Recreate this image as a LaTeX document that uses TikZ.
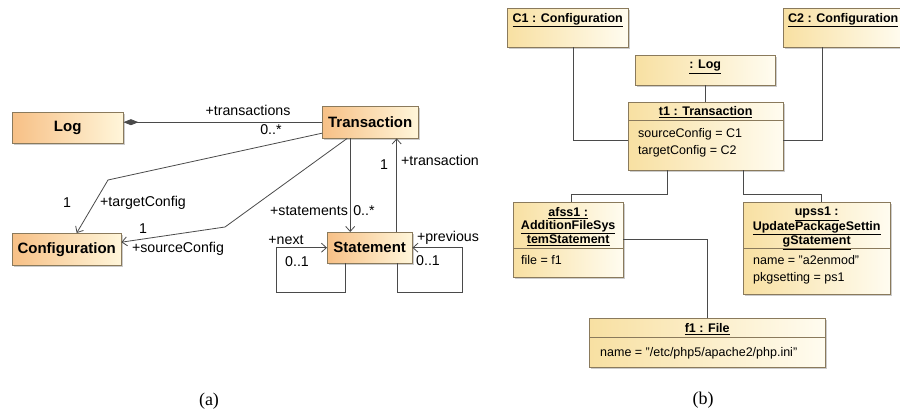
\documentclass[tikz,border=0pt]{standalone}
\usepackage{fontspec}
\setmainfont{Liberation Sans}
\newfontfamily\capfont{Liberation Serif}
\usetikzlibrary{arrows.meta, positioning, shadows}

\definecolor{clsorange}{HTML}{F7C086}
\definecolor{clslight}{HTML}{FFF6DA}
\definecolor{objyellow}{HTML}{F8E0A2}
\definecolor{objlight}{HTML}{FFFCF0}
\definecolor{boxline}{HTML}{8A7A5C}
\definecolor{wire}{HTML}{4A4A4A}

\tikzset{
	boxshadow/.style={drop shadow={shadow xshift=2pt, shadow yshift=-2pt, opacity=0.4}},
	umlclass/.style={draw=boxline, left color=clsorange, right color=clslight, anchor=north west,
		inner sep=0pt, font=\fontsize{15}{17}\selectfont\bfseries, boxshadow},
	umlobject/.style={draw=boxline, left color=objyellow, right color=objlight, anchor=north west,
		inner sep=0pt, boxshadow},
	objhead/.style={anchor=north, inner sep=0pt, align=center, font=\fontsize{12.5}{13}\selectfont\bfseries},
	objattr/.style={anchor=north west, inner sep=0pt, align=left, font=\fontsize{12.5}{17}\selectfont},
	role/.style={inner sep=0pt, font=\fontsize{14.2}{16}\selectfont},
	caption/.style={font=\capfont\fontsize{18}{20}\selectfont},
	assoc/.style={draw=wire, line width=0.8pt},
	link/.style={draw=wire, line width=0.8pt},
	>={Straight Barb[length=5pt, width=9pt]}
}

\begin{document}
\begin{tikzpicture}[x=1pt, y=-1pt]
	\useasboundingbox (0,0) rectangle (900,414);

	\node[umlclass, minimum width=111pt, minimum height=31pt] (log) at (12,112) {Log};
	\node[umlclass, minimum width=96pt, minimum height=32pt] (trans) at (322,106) {Transaction};
	\node[umlclass, minimum width=109pt, minimum height=32pt] (conf) at (12,233) {Configuration};
	\node[umlclass, minimum width=85pt, minimum height=31pt] (stmt) at (327,232) {Statement};

	\draw[assoc, {Diamond[length=15pt, width=6pt]}-] (log.east |- trans.west) -- (trans.west);
	\draw[assoc, ->] ([yshift=-11pt]trans.west) -- (108,180) -- ([xshift=10pt]conf.north);
	\draw[assoc, ->] ([xshift=-23pt]trans.south) -- (225,227) -- ([yshift=7pt]conf.east);
	\draw[assoc, ->] ([xshift=-20pt]trans.south) -- ([xshift=-20pt]trans.south |- stmt.north);
	\draw[assoc, ->] ([xshift=27pt]stmt.north) -- ([xshift=27pt]stmt.north |- trans.south);
	\draw[assoc, ->] ([xshift=-24pt]stmt.south) -- ++(0,29) -| ([xshift=-51pt]stmt.west) -- (stmt.west);
	\draw[assoc, ->] ([xshift=28pt]stmt.south) -- ++(0,29) -| ([xshift=50pt]stmt.east) -- (stmt.east);

	\node[role] (transrole) at (248,110) {+transactions};
	\node[role] (transmult) at (271,130) {0..*};
	\node[role] (tgtmult) at (67,203) {1};
	\node[role] (tgtrole) at (143,203) {+targetConfig};
	\node[role] (srcmult) at (143,229) {1};
	\node[role] (srcrole) at (178,249) {+sourceConfig};
	\node[role] (stmtrole) at (309,211) {+statements};
	\node[role] (stmtmult) at (364,211) {0..*};
	\node[role] (backmult) at (384,165) {1};
	\node[role] (backrole) at (440,160) {+transaction};
	\node[role] (nextrole) at (286,240) {+next};
	\node[role] (nextmult) at (297,262) {0..1};
	\node[role] (prevrole) at (448,238) {+previous};
	\node[role] (prevmult) at (428,261) {0..1};

	\node[umlobject, minimum width=121pt, minimum height=39pt] (c1) at (507,8) {};
	\node[umlobject, minimum width=120pt, minimum height=39pt] (c2) at (783,8) {};
	\node[umlobject, minimum width=140pt, minimum height=30pt] (log2) at (635,55) {};
	\node[umlobject, minimum width=155pt, minimum height=68pt] (t1) at (628,102) {};
	\node[umlobject, minimum width=110pt, minimum height=75pt] (afss1) at (513,202) {};
	\node[umlobject, minimum width=147pt, minimum height=92pt] (upss1) at (743,202) {};
	\node[umlobject, minimum width=236pt, minimum height=49pt] (f1) at (589,318) {};

	\draw[boxline] ([yshift=-18pt]t1.north west) -- ([yshift=-18pt]t1.north east);
	\draw[boxline] ([yshift=-46pt]afss1.north west) -- ([yshift=-46pt]afss1.north east);
	\draw[boxline] ([yshift=-46pt]upss1.north west) -- ([yshift=-46pt]upss1.north east);
	\draw[boxline] ([yshift=-19pt]f1.north west) -- ([yshift=-19pt]f1.north east);

	\node[objhead] (c1head) at ([yshift=-5pt]c1.north) {\underline{C1 : Configuration}};
	\node[objhead] (c2head) at ([yshift=-5pt]c2.north) {\underline{C2 : Configuration}};
	\node[objhead] (log2head) at ([yshift=-5pt]log2.north) {\underline{: Log}};
	\node[objhead] (t1head) at ([yshift=-4pt]t1.north) {\underline{t1 : Transaction}};
	\node[objhead] (afss1head) at ([yshift=-5pt]afss1.north)
		{\underline{afss1 :}\\\underline{AdditionFileSys}\\\underline{temStatement}};
	\node[objhead] (upss1head) at ([yshift=-5pt]upss1.north)
		{\underline{upss1 :}\\\underline{UpdatePackageSettin}\\\underline{gStatement}};
	\node[objhead] (f1head) at ([yshift=-5pt]f1.north) {\underline{f1 : File}};

	\node[objattr] (t1attr) at ([xshift=10pt, yshift=-26pt]t1.north west) {sourceConfig = C1\\targetConfig = C2};
	\node[objattr] (afss1attr) at ([xshift=8pt, yshift=-53pt]afss1.north west) {file = f1};
	\node[objattr] (upss1attr) at ([xshift=10pt, yshift=-53pt]upss1.north west) {name = "a2enmod"\\pkgsetting = ps1};
	\node[objattr] (f1attr) at ([xshift=11pt, yshift=-29pt]f1.north west) {name = "/etc/php5/apache2/php.ini"};

	\draw[link] (log2.south) -- (log2.south |- t1.north);
	\draw[link] ([xshift=6pt]c1.south) |- ([yshift=-4pt]t1.west);
	\draw[link] ([xshift=-21pt]c2.south) |- ([yshift=-4pt]t1.east);
	\draw[link] ([xshift=-38pt]t1.south) -- ++(0,24) -| ([xshift=3pt]afss1.north);
	\draw[link] ([xshift=38pt]t1.south) -- ++(0,24) -| ([xshift=5pt]upss1.north);
	\draw[link] (afss1.east) -| (f1.north);

	\node[caption] (capa) at (209,401) {(a)};
	\node[caption] (capb) at (703,400) {(b)};
\end{tikzpicture}
\end{document}
